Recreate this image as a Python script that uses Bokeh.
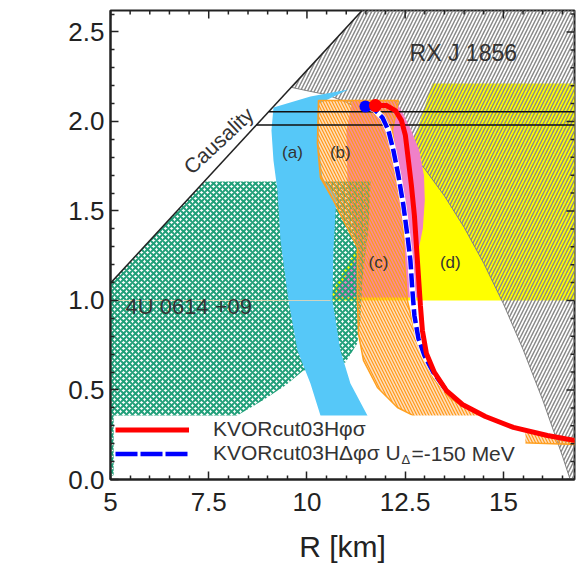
import math
from bokeh.plotting import figure
from bokeh.models import FixedTicker, Label, Legend, LegendItem, Range1d
from bokeh.embed import file_html
from bokeh.resources import INLINE

# ---------------- data ----------------
x_ticks = [5, 7.5, 10, 12.5, 15]
x_tick_labels = ["5", "7.5", "10", "12.5", "15"]
y_ticks = [0, 0.5, 1, 1.5, 2, 2.5]
y_tick_labels = ["0.0", "0.5", "1.0", "1.5", "2.0", "2.5"]
x_minor = [5.5, 6, 6.5, 7, 8, 8.5, 9, 9.5, 10.5, 11, 11.5, 12, 13, 13.5, 14, 14.5, 15.5, 16, 16.5]
y_minor = [0.1, 0.2, 0.3, 0.4, 0.6, 0.7, 0.8, 0.9, 1.1, 1.2, 1.3, 1.4, 1.6, 1.7, 1.8, 1.9,
           2.1, 2.2, 2.3, 2.4, 2.6]

X_MIN, X_MAX = 5.0, 16.81
Y_MIN, Y_MAX = 0.0, 2.62

# causality limit
caus_R = [5.0, 11.74]
caus_M = [1.097, 2.70]

# PSR J0348+0432 mass band (horizontal lines)
psr_M = [2.055, 1.98]
psr_R0 = [9.03, 8.71]
psr_R1 = [18.0, 18.0]

# RX J 1856 region (left boundary and causality edge)
rxj_R = [16.7, 16.5, 16.0, 15.5, 15.0, 14.5, 14.0, 13.5, 13.0, 12.5, 12.0, 11.5, 11.0, 10.5, 10.0,
         9.62, 11.74, 18.0, 18.0]
rxj_M = [0.0, 0.133, 0.445, 0.727, 0.982, 1.208, 1.409, 1.584, 1.735, 1.862, 1.966, 2.048, 2.108,
         2.150, 2.172, 2.19, 2.70, 2.70, 0.0]

# 4U 0614+09 region
u4_R = [5.0, 7.39, 11.62, 11.56, 11.41, 11.36, 11.28, 10.98, 10.34, 9.91, 9.45, 8.87, 8.31, 7.29, 5.0]
u4_M = [1.095, 1.665, 1.665, 1.391, 1.112, 0.888, 0.760, 0.654, 0.626, 0.609, 0.525, 0.441, 0.369,
        0.218, 0.017]

# region (a)
a_R = [9.148, 9.097, 9.148, 9.249, 9.326, 9.529, 9.758, 10.089, 10.344, 10.445, 11.667, 11.539,
       11.107, 10.852, 10.649, 10.674, 10.751, 10.394, 10.293, 10.318, 11.056, 10.089]
a_M = [2.078, 1.950, 1.782, 1.615, 1.335, 1.0, 0.721, 0.536, 0.358, 0.274, 0.274, 0.358, 0.536,
       0.721, 1.0, 1.279, 1.587, 1.682, 1.894, 2.101, 2.179, 2.140]

# regions (b)+(c) (hatched band)
bc_R = [10.293, 10.267, 10.344, 10.674, 10.929, 11.285, 11.285, 11.310, 11.438, 11.794, 12.303,
        12.812, 14.160, 15.5, 17.468, 17.468, 16.450, 15.178, 14.288, 13.651, 13.219, 12.939,
        12.735, 12.557, 12.481, 12.430, 12.303, 12.176, 12.328]
bc_M = [2.117, 1.877, 1.687, 1.559, 1.447, 1.296, 1.0, 0.816, 0.665, 0.514, 0.402, 0.346, 0.218,
        0.205, 0.19, 0.205, 0.238, 0.288, 0.370, 0.453, 0.564, 0.693, 0.832, 1.0, 1.223, 1.503,
        1.726, 1.950, 2.117]

# pink region
pk_R = [11.158, 11.005, 11.031, 11.158, 11.285, 10.674, 12.837, 12.837, 12.95, 13.0, 12.98,
        12.86, 12.634, 12.430, 12.252]
pk_M = [2.117, 1.950, 1.670, 1.447, 1.251, 1.017, 1.017, 1.279, 1.402, 1.559, 1.698, 1.838, 1.961,
        2.050, 2.117]

# region (d)
d_R = [10.52, 11.74, 12.76, 13.19, 17.5, 17.5]
d_M = [1.0, 1.475, 1.922, 2.212, 2.212, 1.0]

faint_R = [5.0, 10.6]
faint_M = [1.0, 1.0]

# EoS curves
red_R = [11.743, 12.023, 12.252, 12.405, 12.506, 12.583, 12.659, 12.735, 12.786, 12.837, 12.888,
         12.939, 13.041, 13.244, 13.550, 13.957, 14.542, 15.254, 16.120, 16.959]
red_M = [2.089, 2.089, 2.061, 2.006, 1.922, 1.782, 1.642, 1.475, 1.307, 1.140, 0.972, 0.832, 0.704,
         0.598, 0.497, 0.419, 0.352, 0.291, 0.246, 0.212]
blue_R = [11.489, 11.718, 11.921, 12.074, 12.201, 12.328, 12.455, 12.557, 12.634, 12.684, 12.735,
          12.837, 12.990, 13.219, 13.550]
blue_M = [2.084, 2.067, 2.022, 1.950, 1.838, 1.698, 1.531, 1.363, 1.223, 1.056, 0.916, 0.788, 0.693,
          0.598, 0.497]
red_max = (11.743, 2.089)
blue_max = (11.489, 2.084)

FONT = "Liberation Sans"
INK = "#222222"

W, H = 576, 566
BL, BR, BT, BB = 110, 2, 10, 87
p = figure(width=W, height=H, x_range=Range1d(X_MIN, X_MAX), y_range=Range1d(Y_MIN, Y_MAX),
           output_backend="svg", toolbar_location=None,
           min_border_left=BL, min_border_right=BR, min_border_top=BT, min_border_bottom=BB)
p.xgrid.visible = False
p.ygrid.visible = False
p.outline_line_color = INK
p.outline_line_width = 2

# ---- regions ----
p.patch(d_R, d_M, fill_color="#ffff00", line_color=None)
p.patch(rxj_R, rxj_M, fill_alpha=0, line_color="#808080", line_width=1,
        hatch_pattern="/", hatch_color="#8a8a8a", hatch_scale=7, hatch_weight=1.5)
p.patch(pk_R, pk_M, fill_color="#f080c8", line_color=None)
p.patch(u4_R, u4_M, fill_alpha=0, line_color=None,
        hatch_pattern="x", hatch_color="#22a07a", hatch_scale=6, hatch_weight=2)
p.patch(a_R, a_M, fill_color="#56c8f8", line_color=None)
p.patch(bc_R, bc_M, fill_color="#ffa040", fill_alpha=0.35, line_color="#ffa020", line_width=1.5,
        hatch_pattern="\\", hatch_color="#ff9a1a", hatch_scale=6, hatch_weight=1.2)
p.line(faint_R, faint_M, line_color="#f0d8b0", line_width=1, line_alpha=0.8)

# causality and PSR lines
p.line(caus_R, caus_M, line_color=INK, line_width=1.5)
for m, r0, r1 in zip(psr_M, psr_R0, psr_R1):
    p.line([r0, r1], [m, m], line_color="#111111", line_width=1.5)

# white legend box
p.quad(left=5.08, right=15.56, bottom=0.01, top=0.357, fill_color="white", line_color=None)

# curves
p.line(blue_R, blue_M, line_color="white", line_width=6)
p.line(blue_R, blue_M, line_color="#0000ff", line_width=4.5, line_dash="14 4")
p.line(red_R, red_M, line_color="#ff0000", line_width=5)
p.scatter([blue_max[0]], [blue_max[1]], size=12, fill_color="#0000ff", line_color=None)
p.scatter([red_max[0]], [red_max[1]], size=13, fill_color="#ff0000", line_color=None)

# ---- axes ----
def style(ax, ticks, minor):
    ax.ticker = FixedTicker(ticks=ticks, minor_ticks=minor)
    ax.axis_line_width = 2
    ax.axis_line_color = INK
    ax.major_tick_in = 8
    ax.major_tick_out = 0
    ax.minor_tick_in = 4
    ax.minor_tick_out = 0
    ax.major_tick_line_width = 1.5
    ax.minor_tick_line_width = 1.5
    ax.major_tick_line_color = INK
    ax.minor_tick_line_color = INK
    ax.major_label_text_font = FONT
    ax.major_label_text_font_size = "26px"
    ax.major_label_text_color = INK

style(p.xaxis[0], x_ticks, x_minor)
style(p.yaxis[0], y_ticks, y_minor)
p.xaxis[0].major_label_overrides = dict(zip(x_ticks, x_tick_labels))
p.yaxis[0].major_label_overrides = dict(zip(y_ticks, y_tick_labels))
p.xaxis[0].major_label_standoff = 13
p.yaxis[0].major_label_standoff = 6
p.xaxis[0].axis_label = "R [km]"
p.xaxis[0].axis_label_text_font = FONT
p.xaxis[0].axis_label_text_font_size = "30px"
p.xaxis[0].axis_label_text_font_style = "normal"
p.xaxis[0].axis_label_text_color = INK
p.xaxis[0].axis_label_standoff = 16

# mirrored inward ticks on top and right edges
fh = H - BT - BB
fw = W - BL - BR
dy_major, dy_minor = 8 * (Y_MAX - Y_MIN) / fh, 4 * (Y_MAX - Y_MIN) / fh
dx_major, dx_minor = 8 * (X_MAX - X_MIN) / fw, 4 * (X_MAX - X_MIN) / fw
p.segment(x0=x_ticks, x1=x_ticks, y0=[Y_MAX] * len(x_ticks), y1=[Y_MAX - dy_major] * len(x_ticks),
          line_color=INK, line_width=1.5)
p.segment(x0=x_minor, x1=x_minor, y0=[Y_MAX] * len(x_minor), y1=[Y_MAX - dy_minor] * len(x_minor),
          line_color=INK, line_width=1.5)
p.segment(x0=[X_MAX] * len(y_ticks), x1=[X_MAX - dx_major] * len(y_ticks), y0=y_ticks, y1=y_ticks,
          line_color=INK, line_width=1.5)
p.segment(x0=[X_MAX] * len(y_minor), x1=[X_MAX - dx_minor] * len(y_minor), y0=y_minor, y1=y_minor,
          line_color=INK, line_width=1.5)

# y-axis label M/M_sun
FL, FB = BL, H - BB  # frame left / bottom in page px (for screen-unit labels)
p.add_layout(Label(x=29 - FL, y=FB - 252, x_units="screen", y_units="screen", text="M/M",
                   angle=math.pi / 2, text_align="center", text_baseline="middle",
                   text_font=FONT, text_font_size="30px", text_color=INK))
p.add_layout(Label(x=38 - FL, y=FB - 211, x_units="screen", y_units="screen", text="⊙",
                   angle=math.pi / 2, text_align="center", text_baseline="middle",
                   text_font=FONT, text_font_size="17px", text_color=INK))

# in-plot texts
def dlabel(x, y, t, size, align="center", angle=0.0):
    p.add_layout(Label(x=x, y=y, text=t, text_align=align, text_baseline="middle", angle=angle,
                       text_font=FONT, text_font_size=size, text_color="#333333"))

dlabel(9.63, 1.827, "(a)", "17px")
dlabel(10.85, 1.827, "(b)", "17px")
dlabel(11.82, 1.212, "(c)", "17px")
dlabel(13.65, 1.212, "(d)", "17px")
dlabel(13.98, 2.385, "RX J 1856", "23px")
dlabel(5.38, 0.966, "4U 0614 +09", "22px", align="left")
dlabel(7.75, 1.894, "Causality", "21px", angle=math.radians(43))

# legend (sample glyphs sit outside the visible range)
legend_demo_R = [3.0, 3.5]
legend_demo_M = [-1.0, -1.0]
leg_red = p.line(legend_demo_R, legend_demo_M, line_color="#ff0000", line_width=5)
leg_blue = p.line(legend_demo_R, legend_demo_M, line_color="#0000ff", line_width=4.5,
                  line_dash="22 3")
legend = Legend(items=[LegendItem(label="KVORcut03Hφσ", renderers=[leg_red]),
                       LegendItem(label="KVORcut03HΔφσ U", renderers=[leg_blue])],
                location=(5, 14), border_line_color=None, background_fill_alpha=0,
                glyph_width=74, glyph_height=23, label_height=23, label_standoff=24,
                spacing=0, padding=0, margin=0, label_text_font=FONT,
                label_text_font_size="21px", label_text_color="#333333")
p.add_layout(legend)
p.add_layout(Label(x=401 - FL, y=FB - 459, x_units="screen", y_units="screen", text="Δ",
                   text_align="left", text_baseline="middle", text_font=FONT,
                   text_font_size="13px", text_color="#333333"))
p.add_layout(Label(x=411 - FL, y=FB - 453, x_units="screen", y_units="screen", text="=-150 MeV",
                   text_align="left", text_baseline="middle", text_font=FONT,
                   text_font_size="21px", text_color="#333333"))

open("out.html", "w").write(file_html(p, INLINE))
